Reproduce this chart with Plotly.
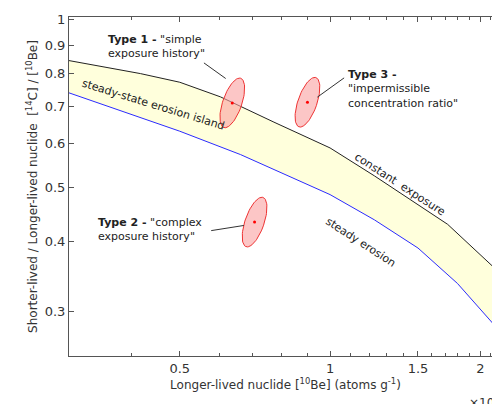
import numpy as np
import plotly.graph_objects as go

# curves (x in 1e4 atoms/g)
const_x = [0.3, 0.417, 0.5, 0.603, 0.772, 1.0, 1.227, 1.5, 1.72, 2.21]
const_y = [0.844, 0.80, 0.772, 0.727, 0.655, 0.589, 0.525, 0.467, 0.430, 0.349]
erosion_x = [0.3, 0.5, 0.662, 1.0, 1.227, 1.5, 1.8, 2.21]
erosion_y = [0.739, 0.631, 0.573, 0.486, 0.438, 0.390, 0.337, 0.274]

# sample points (centre of each uncertainty ellipse)
samp_x = [0.637, 0.901, 0.706]
samp_y = [0.709, 0.711, 0.434]

XPX = 498.0   # px per decade
YPX = 557.7

def ellipse(cx, cy, a=26, b=9.5, tilt=19):
    t = np.linspace(0, 2 * np.pi, 80)
    th = np.radians(tilt)
    dx = b * np.cos(t) * np.cos(th) + a * np.sin(t) * np.sin(th)
    dy = a * np.sin(t) * np.cos(th) - b * np.cos(t) * np.sin(th)
    return cx * 10 ** (dx / XPX), cy * 10 ** (dy / YPX)

fig = go.Figure()
fig.add_trace(go.Scatter(x=erosion_x, y=erosion_y, mode="lines", line=dict(color="#2b2bff", width=1)))
fig.add_trace(go.Scatter(x=const_x, y=const_y, mode="lines", line=dict(color="#222", width=1),
                         fill="tonexty", fillcolor="rgba(255,255,220,1)"))
for cx, cy in zip(samp_x, samp_y):
    ex, ey = ellipse(cx, cy)
    fig.add_trace(go.Scatter(x=ex, y=ey, mode="lines", fill="toself", fillcolor="rgba(250,160,160,0.6)",
                             line=dict(color="#ee3333", width=1)))
fig.add_trace(go.Scatter(x=samp_x, y=samp_y, mode="markers", marker=dict(color="red", size=3)))

F = dict(family="DejaVu Sans", size=11, color="#222")
L = 61.3; W = 432.7; B = 348; H = 338.7
def px(x, y):
    return (x - L) / W, (B - y) / H

notes = [
    (98, 23, "<b>Type 1 -</b> \"simple<br>exposure history\""),
    (338, 58, "<b>Type 3 -</b><br>\"impermissible<br>concentration ratio\""),
    (88, 206, "<b>Type 2 -</b> \"complex<br>exposure history\""),
]
for x, y, t in notes:
    xp, yp = px(x, y)
    fig.add_annotation(x=xp, y=yp, xref="paper", yref="paper", text=t, showarrow=False,
                       xanchor="left", yanchor="top", align="left", font=F)
for (x0, y0, x1, y1) in [(0.559, 0.836, 0.618, 0.784), (1.067, 0.786, 0.943, 0.726), (0.578, 0.419, 0.672, 0.428)]:
    fig.add_shape(type="line", x0=x0, y0=y0, x1=x1, y1=y1, line=dict(color="#333", width=1))

for x, y, t, ang in [(145, 97, "steady-state erosion island", 17), (392, 177, "constant  exposure", 33),
                     (353, 235, "steady erosion", 33)]:
    xp, yp = px(x, y)
    fig.add_annotation(x=xp, y=yp, xref="paper", yref="paper", text=t, showarrow=False, textangle=ang,
                       xanchor="center", yanchor="middle", font=F)
fig.add_annotation(x=1.0, y=-0.135, xref="paper", yref="paper", text="×10<sup>4</sup>", showarrow=False,
                   xanchor="right", yanchor="middle", font=dict(family="DejaVu Sans", size=12, color="#333"))

ax = dict(showline=True, linecolor="#555", mirror="ticks", ticks="inside", ticklen=5, tickcolor="#555",
          showgrid=False, zeroline=False, automargin=False,
          tickfont=dict(family="DejaVu Sans", size=13, color="#333"))
fig.update_xaxes(type="log", range=[np.log10(0.3), np.log10(2.21)], tickvals=[0.5, 1, 1.5, 2],
                 ticktext=["0.5", "1", "1.5", "2"],
                 minor=dict(tickvals=[0.3, 0.4, 0.6, 0.7, 0.8, 0.9, 1.1, 1.2, 1.3, 1.4, 1.6, 1.7, 1.8, 1.9, 2.1],
                            ticks="inside", ticklen=3, tickcolor="#555"),
                 title=dict(text="Longer-lived nuclide [<sup>10</sup>Be] (atoms g<sup>-1</sup>)",
                            font=dict(family="DejaVu Sans", size=12, color="#333"), standoff=6), **ax)
fig.update_yaxes(type="log", range=[np.log10(0.25), np.log10(1.01)],
                 tickvals=[0.3, 0.4, 0.5, 0.6, 0.7, 0.8, 0.9, 1], ticktext=["0.3", "0.4", "0.5", "0.6", "0.7", "0.8", "0.9", "1"],
                 title=dict(text="Shorter-lived / Longer-lived nuclide  [<sup>14</sup>C] / [<sup>10</sup>Be]",
                            font=dict(family="DejaVu Sans", size=12, color="#333"), standoff=4), **ax)
fig.update_layout(width=500, height=404, margin=dict(l=61, r=6, t=9, b=56), showlegend=False,
                  plot_bgcolor="white", paper_bgcolor="white")
fig.write_html("out.html")
